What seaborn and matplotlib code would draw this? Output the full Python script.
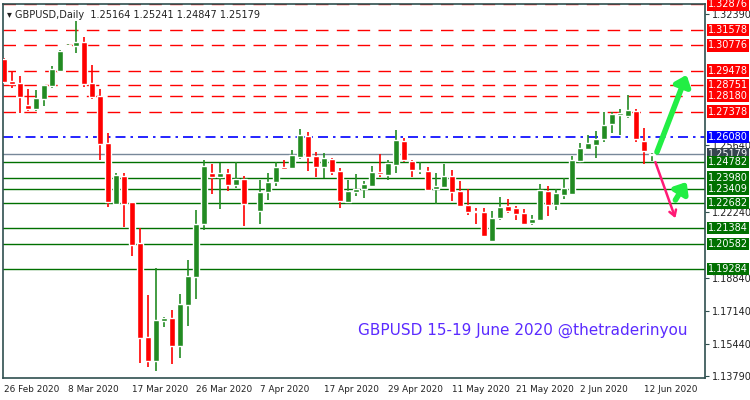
import numpy as np
import pandas as pd
import matplotlib
matplotlib.use("Agg")
import matplotlib.pyplot as plt
import matplotlib.transforms as mtransforms
import seaborn as sns

# daily candles, index 31 has no bar
opens = [1.3008, 1.2895, 1.2885, 1.2771, 1.2751, 1.2802, 1.2869, 1.2946, 1.3074, 1.3074,
         1.3095, 1.2885, 1.2817, 1.2576, 1.2262, 1.2406, 1.2273, 1.2062, 1.1579, 1.1456,
         1.1661, 1.1676, 1.1532, 1.1743, 1.1887, 1.2159, 1.2422, 1.2401, 1.2422, 1.2360,
         1.2391, np.nan, 1.2227, 1.2324, 1.2376, 1.2453, 1.2448, 1.2504, 1.2612, 1.2509,
         1.2453, 1.2494, 1.2432, 1.2273, 1.2324, 1.2340, 1.2355, 1.2427, 1.2411, 1.2463,
         1.2586, 1.2484, 1.2432, 1.2432, 1.2340, 1.2350, 1.2406, 1.2329, 1.2257, 1.2227,
         1.2221, 1.2072, 1.2190, 1.2252, 1.2242, 1.2216, 1.2165, 1.2180, 1.2329, 1.2257,
         1.2309, 1.2314, 1.2484, 1.2545, 1.2566, 1.2597, 1.2674, 1.2720, 1.2715, 1.2741,
         1.2586, 1.25164]
highs = [1.3013, 1.2946, 1.2920, 1.2854, 1.2848, 1.2874, 1.2972, 1.3054, 1.3084, 1.3203,
         1.3121, 1.2977, 1.2854, 1.2628, 1.2422, 1.2422, 1.2273, 1.2139, 1.1794, 1.1934,
         1.1681, 1.1718, 1.1799, 1.1975, 1.2232, 1.2489, 1.2468, 1.2474, 1.2443, 1.2479,
         1.2406, np.nan, 1.2386, 1.2422, 1.2479, 1.2489, 1.2540, 1.2648, 1.2633, 1.2530,
         1.2525, 1.2499, 1.2448, 1.2386, 1.2417, 1.2381, 1.2458, 1.2519, 1.2489, 1.2643,
         1.2602, 1.2489, 1.2479, 1.2453, 1.2422, 1.2468, 1.2437, 1.2381, 1.2340, 1.2242,
         1.2242, 1.2227, 1.2298, 1.2288, 1.2252, 1.2237, 1.2206, 1.2365, 1.2355, 1.2340,
         1.2396, 1.2509, 1.2576, 1.2617, 1.2638, 1.2736, 1.2736, 1.2751, 1.2823, 1.2751,
         1.2653, 1.25241]
lows = [1.2885, 1.2859, 1.2731, 1.2741, 1.2741, 1.2766, 1.2859, 1.2941, 1.3069, 1.3039,
        1.2864, 1.2802, 1.2489, 1.2247, 1.2262, 1.2144, 1.1995, 1.1446, 1.1425, 1.1404,
        1.1630, 1.1440, 1.1471, 1.1635, 1.1774, 1.2129, 1.2313, 1.2237, 1.2329, 1.2345,
        1.2149, np.nan, 1.2159, 1.2283, 1.2355, 1.2437, 1.2443, 1.2494, 1.2432, 1.2401,
        1.2396, 1.2411, 1.2242, 1.2273, 1.2303, 1.2293, 1.2355, 1.2401, 1.2386, 1.2422,
        1.2479, 1.2401, 1.2417, 1.2334, 1.2262, 1.2350, 1.2278, 1.2252, 1.2206, 1.2159,
        1.2098, 1.2072, 1.2180, 1.2216, 1.2180, 1.2159, 1.2154, 1.2180, 1.2201, 1.2232,
        1.2288, 1.2314, 1.2473, 1.2540, 1.2499, 1.2581, 1.2628, 1.2617, 1.2705, 1.2581,
        1.2468, 1.24847]
closes = [1.2890, 1.2879, 1.2812, 1.2751, 1.2807, 1.2874, 1.2957, 1.3049, 1.3079, 1.3095,
          1.2879, 1.2812, 1.2570, 1.2273, 1.2411, 1.2262, 1.2051, 1.1574, 1.1456, 1.1666,
          1.1676, 1.1532, 1.1748, 1.1892, 1.2159, 1.2458, 1.2401, 1.2422, 1.2360, 1.2391,
          1.2262, np.nan, 1.2324, 1.2376, 1.2453, 1.2443, 1.2514, 1.2617, 1.2504, 1.2453,
          1.2499, 1.2427, 1.2278, 1.2329, 1.2340, 1.2365, 1.2427, 1.2417, 1.2474, 1.2591,
          1.2489, 1.2437, 1.2437, 1.2334, 1.2355, 1.2406, 1.2324, 1.2252, 1.2221, 1.2221,
          1.2098, 1.2190, 1.2247, 1.2227, 1.2211, 1.2159, 1.2185, 1.2334, 1.2257, 1.2319,
          1.2345, 1.2489, 1.2550, 1.2576, 1.2597, 1.2668, 1.2725, 1.2730, 1.2746, 1.2597,
          1.2535, 1.25179]

date_ticks = [0, 8, 16, 24, 32, 40, 48, 56, 64, 72, 80]
date_labels = ["26 Feb 2020", "8 Mar 2020", "17 Mar 2020", "26 Mar 2020", "7 Apr 2020",
               "17 Apr 2020", "29 Apr 2020", "11 May 2020", "21 May 2020", "2 Jun 2020",
               "12 Jun 2020"]
price_ticks = [1.32390, 1.25640, 1.22240, 1.18840, 1.17140, 1.15440, 1.13790]
resistance = [1.32876, 1.31578, 1.30776, 1.29478, 1.28751, 1.28180, 1.27378]
pivot = 1.26080
current = 1.25179
support = [1.24782, 1.23980, 1.23409, 1.22682, 1.21384, 1.20582, 1.19284]

df = pd.DataFrame({"open": opens, "high": highs, "low": lows, "close": closes})
df["idx"] = np.arange(len(df))
df = df.dropna()
df["bull"] = df["close"] >= df["open"]

sns.set_style("white")
plt.rcParams["font.family"] = ["DejaVu Sans"]

fig = plt.figure(figsize=(7.5, 4), dpi=100)
ax = fig.add_axes([0.004, 0.055, 0.936, 0.935])
green, red = "#228b22", "#ff0000"

for y in resistance:
    ax.axhline(y, color=red, lw=1, linestyle=(0, (9, 6)), zorder=1)
ax.axhline(pivot, color="#0000ff", lw=1.2, linestyle=(0, (6, 3, 1.5, 3)), zorder=1)
ax.axhline(current, color="#778899", lw=1, zorder=1)
for y in support:
    ax.axhline(y, color="#007000", lw=1, zorder=1)

cols = np.where(df["bull"], green, red)
ax.vlines(df["idx"], df["low"], df["high"], colors=cols, lw=1.2, zorder=2)
body_lo = np.minimum(df["open"], df["close"])
body_h = np.maximum(np.abs(df["close"] - df["open"]), 0.0004)
ax.bar(df["idx"], body_h, bottom=body_lo, width=0.68, color=cols, zorder=3)

ax.set_xlim(-0.1, 87.6)
ax.set_ylim(1.1369, 1.3290)
ax.yaxis.tick_right()
ax.set_yticks(price_ticks)
ax.set_yticklabels([f"{p:.5f}" for p in price_ticks], fontsize=7)
ax.set_xticks(date_ticks)
ax.set_xticklabels(date_labels, fontsize=6.4, ha="left")
ax.tick_params(axis="both", length=3, color="#2f4f4f", pad=2, labelcolor="#222222")
for s in ax.spines.values():
    s.set_color("#2f4f4f")
    s.set_linewidth(1.2)

trans = mtransforms.blended_transform_factory(ax.transAxes, ax.transData)
def level_tag(y, bg):
    ax.text(1.004, y, f"{y:.5f}", transform=trans, fontsize=7, color="white",
            va="center", ha="left", zorder=5,
            bbox=dict(boxstyle="square,pad=0.12", fc=bg, ec="none"))
for y in resistance:
    level_tag(y, red)
level_tag(pivot, "#0000ff")
level_tag(current, "#36454f")
for y in support:
    level_tag(y, "#007000")

ax.text(0.005, 0.985, "\u25BE GBPUSD,Daily  1.25164 1.25241 1.24847 1.25179",
        transform=ax.transAxes, fontsize=7, va="top", ha="left", color="#222222")
ax.text(0.74, 1.1616, "GBPUSD 15-19 June 2020 @thetraderinyou", fontsize=11,
        color="#5b2bff", ha="center", va="center", transform=trans)

ax.annotate("", xy=(85.3, 1.2926), xytext=(81.6, 1.2530),
            arrowprops=dict(arrowstyle="-|>,head_length=0.6,head_width=0.5", color="#22ee44",
                            lw=4, shrinkA=0, shrinkB=0), zorder=6)
ax.annotate("", xy=(85.3, 1.2376), xytext=(83.9, 1.2283),
            arrowprops=dict(arrowstyle="-|>,head_length=0.6,head_width=0.5", color="#22ee44",
                            lw=4, shrinkA=0, shrinkB=0), zorder=6)
ax.annotate("", xy=(83.9, 1.2190), xytext=(81.4, 1.2478),
            arrowprops=dict(arrowstyle="->,head_length=0.4,head_width=0.25", color="#ff1a75",
                            lw=1.8, shrinkA=0, shrinkB=0), zorder=6)

fig.savefig("out.png", dpi=100)
